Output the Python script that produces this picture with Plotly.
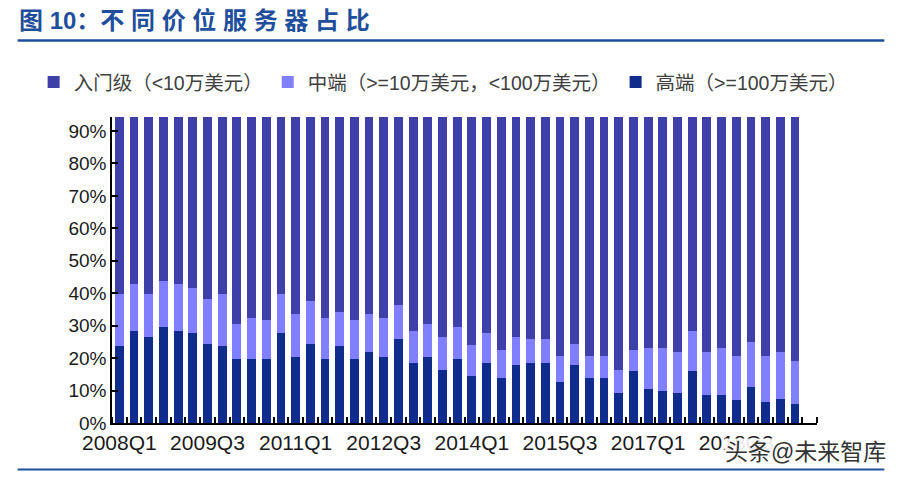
import plotly.graph_objects as go

# Quarters 2008Q1 .. 2019Q4 (last slot has no data)
quarters = [f"{y}Q{q}" for y in range(2008, 2020) for q in range(1, 5)]
tick_labels = quarters[:47:6]  # 2008Q1, 2009Q3, ... 2018Q3

# Shares in percent (2008Q1 .. 2019Q3)
entry = [60.2, 57.1, 60.2, 56.2, 57.1, 58.4, 61.8, 60.2, 69.4, 67.6, 68.2, 60.2,
         66.4, 62.4, 67.6, 65.8, 68.2, 66.4, 67.6, 63.6, 71.6, 69.5, 73.5, 70.3,
         76.1, 72.2, 77.4, 73.4, 74.2, 74.2, 79.5, 75.6, 79.5, 79.5, 83.6, 77.4,
         76.8, 76.8, 78.2, 71.6, 78.2, 76.8, 79.5, 75.0, 79.5, 78.2, 80.8]
mid = [16.0, 14.5, 13.2, 14.1, 14.6, 13.9, 13.8, 16.0, 10.8, 12.6, 12.0, 12.1,
       13.2, 13.1, 12.6, 10.4, 12.1, 11.8, 12.0, 10.6, 9.9, 10.1, 10.1, 10.0,
       9.3, 9.2, 8.7, 8.7, 7.2, 7.2, 7.9, 6.5, 6.6, 6.6, 7.1, 6.7,
       12.7, 13.4, 12.6, 12.5, 13.2, 14.6, 13.3, 13.9, 14.0, 14.5, 13.4]
high = [23.8, 28.4, 26.6, 29.7, 28.3, 27.7, 24.4, 23.8, 19.8, 19.8, 19.8, 27.7,
        20.4, 24.5, 19.8, 23.8, 19.7, 21.8, 20.4, 25.8, 18.5, 20.4, 16.4, 19.7,
        14.6, 18.6, 13.9, 17.9, 18.6, 18.6, 12.6, 17.9, 13.9, 13.9, 9.3, 15.9,
        10.5, 9.8, 9.2, 15.9, 8.6, 8.6, 7.2, 11.1, 6.5, 7.3, 5.8]

series_names = ["入门级（<10万美元）", "中端（>=10万美元，<100万美元）", "高端（>=100万美元）"]
colors = ["#3F3FA9", "#7F7FFF", "#0F2B8C"]

xs = list(range(len(high)))

# figure / plot-area geometry (pixels)
W, H = 901, 477
ML, MR, MT, MB = 112.3, 84.3, 116.7, 53.7
PW, PH = W - ML - MR, H - MT - MB


def px(x):
    return (x - ML) / PW


def py(y):
    return (H - MB - y) / PH


fig = go.Figure()
fig.add_trace(go.Bar(x=xs, y=high, name=series_names[2], marker_color=colors[2],
                     marker_line_width=0, legendrank=3))
fig.add_trace(go.Bar(x=xs, y=mid, name=series_names[1], marker_color=colors[1],
                     marker_line_width=0, legendrank=2))
fig.add_trace(go.Bar(x=xs, y=entry, name=series_names[0], marker_color=colors[0],
                     marker_line_width=0, legendrank=1))

font_family = "Arial, Liberation Sans, Noto Sans CJK SC, sans-serif"

fig.update_layout(
    width=W, height=H,
    barmode="stack", bargap=0.4,
    plot_bgcolor="white", paper_bgcolor="white",
    margin=dict(l=ML, r=MR, t=MT, b=MB, autoexpand=False),
    font=dict(family=font_family, color="#000000"),
    showlegend=True,
    legend=dict(orientation="h", x=px(34), xanchor="left", y=py(82), yanchor="middle",
                font=dict(size=19.5, color="#404040"), traceorder="normal",
                itemclick=False, bgcolor="rgba(0,0,0,0)"),
    xaxis=dict(range=[-0.5, 47.5], tickmode="array", tickvals=xs[::6], ticktext=tick_labels,
               ticks="", showgrid=False, zeroline=False, showline=True,
               linecolor="#000000", linewidth=1.5,
               tickfont=dict(size=21, color="#1a1a1a"),
               minor=dict(ticks="inside", tick0=0.5, dtick=1, ticklen=6,
                          tickcolor="#000000", tickwidth=1.5, showgrid=False)),
    yaxis=dict(range=[0, 94.3], tickmode="linear", tick0=0, dtick=10, ticksuffix="%",
               ticks="inside", ticklen=6, tickcolor="#000000", tickwidth=1.5,
               showgrid=False, zeroline=False, showline=True,
               linecolor="#000000", linewidth=1.5,
               tickfont=dict(size=19, color="#1a1a1a")),
)

# Title and decorative rules
fig.add_annotation(text="<b>图 10：不 同 价 位 服 务 器 占 比</b>", xref="paper", yref="paper",
                   x=px(17), xanchor="left", y=py(20), yanchor="middle", showarrow=False,
                   font=dict(size=24, color="#1F4F9C", family=font_family))
fig.add_shape(type="line", xref="paper", yref="paper", x0=px(18), x1=px(884),
              y0=py(40), y1=py(40), line=dict(color="#1F4F9C", width=2.5))
fig.add_shape(type="line", xref="paper", yref="paper", x0=px(18), x1=px(884),
              y0=py(470), y1=py(470), line=dict(color="#1F4F9C", width=2))

# Watermark
fig.add_annotation(text="头条@未来智库", xref="paper", yref="paper",
                   x=px(724), xanchor="left", y=py(452), yanchor="middle", showarrow=False,
                   bgcolor="rgba(255,255,255,0.9)", borderpad=0,
                   font=dict(size=23, color="#333333", family=font_family))

fig.write_html("out.html", config={"displayModeBar": False},
               post_script="document.body.style.margin='0px';")
